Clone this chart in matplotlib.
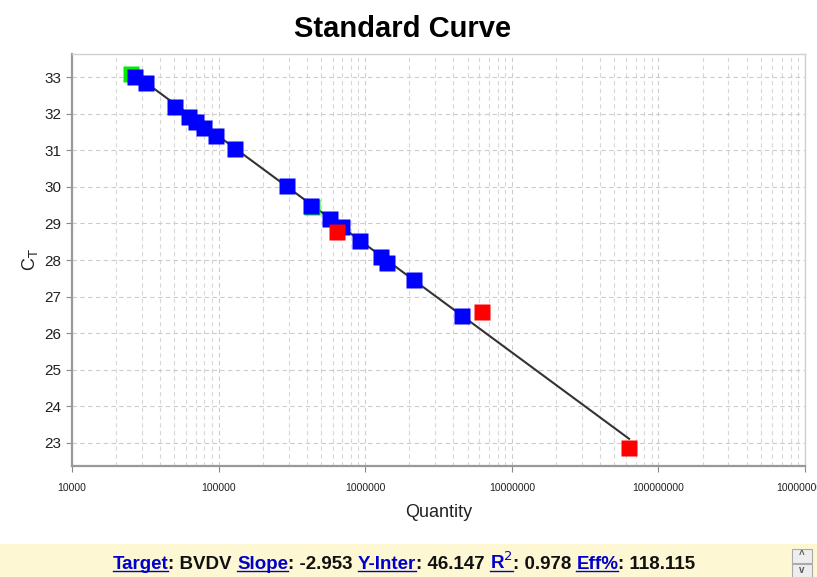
import numpy as np
import matplotlib
matplotlib.use("Agg")
import matplotlib.pyplot as plt
from matplotlib.patches import Rectangle
from matplotlib.ticker import LogLocator, FixedLocator, NullFormatter

plt.rcParams['font.family'] = ['Liberation Sans', 'DejaVu Sans']

# ---- data ----
green_qty = [25235, 433500]
green_ct = [33.08, 29.45]

blue_qty = [26915, 31990, 50120, 63100, 70150, 79430, 95500, 128800, 293100,
            426600, 575400, 691800, 922600, 1282000, 1409000, 2153000, 4571000]
blue_ct = [33.00, 32.84, 32.18, 31.91, 31.77, 31.61, 31.39, 31.03, 30.02,
           29.48, 29.12, 28.90, 28.52, 28.08, 27.92, 27.45, 26.47]

red_qty = [642700, 6310000, 63100000]
red_ct = [28.77, 26.58, 22.86]

slope = -2.953
y_inter = 46.147
r2 = 0.978
eff = 118.115
target = "BVDV"

x_ticks = [1e4, 1e5, 1e6, 1e7, 1e8, 1e9]
x_ticklabels = ["10000", "100000", "1000000", "10000000", "100000000", "1000000000"]
y_ticks = list(range(23, 34))

# ---- figure ----
fig = plt.figure(figsize=(8.17, 5.77), dpi=100)
ax = fig.add_axes([72/817, 1-466/577, (805-72)/817, (466-54)/577])

# fit line
all_q = green_qty + blue_qty + red_qty
qmin, qmax = min(all_q), max(all_q)
xs = np.array([qmin, qmax])
ax.plot(xs, slope*np.log10(xs) + y_inter, color='#333333', lw=1.5, zorder=2)

ms = 11.5
ax.plot(green_qty, green_ct, 's', color='#00ee00', ms=ms, mec='none', zorder=3)
ax.plot(blue_qty, blue_ct, 's', color='#0000ff', ms=ms, mec='none', zorder=4)
ax.plot(red_qty, red_ct, 's', color='#ff0000', ms=ms, mec='none', zorder=5)

ax.set_xscale('log')
ax.set_xlim(1e4, 1e9)
ax.set_ylim(22.37, 33.63)
ax.xaxis.set_major_locator(FixedLocator(x_ticks))
ax.set_xticklabels(x_ticklabels)
ax.xaxis.set_minor_locator(LogLocator(base=10, subs=np.arange(2, 10), numticks=50))
ax.xaxis.set_minor_formatter(NullFormatter())
ax.set_yticks(y_ticks)

ax.grid(True, which='major', axis='both', color='#cccccc', ls=(0, (4, 3)), lw=0.8)
ax.grid(True, which='minor', axis='x', color='#d8d8d8', ls=(0, (4, 3)), lw=0.8)
ax.set_axisbelow(True)

ax.tick_params(axis='x', which='major', length=4, color='#888888', labelsize=7.5,
               pad=8, labelcolor='#222222')
ax.tick_params(axis='x', which='minor', length=0)
ax.tick_params(axis='y', length=4, color='#888888', labelsize=11, labelcolor='#222222')

for s in ['left', 'bottom']:
    ax.spines[s].set_color('#999999')
    ax.spines[s].set_linewidth(1.6)
for s in ['top', 'right']:
    ax.spines[s].set_color('#d0d0d0')
    ax.spines[s].set_linewidth(1.0)

ax.set_xlabel('Quantity', fontsize=13, labelpad=8, color='#222222')
ax.set_ylabel(r'C$_{\mathrm{T}}$', fontsize=13, labelpad=3, color='#222222')
fig.text(403/817, 1-29/577, 'Standard Curve', fontsize=21, fontweight='bold',
         ha='center', va='center')

# bottom band
fig.patches.append(Rectangle((0, 0), 1, 33/577, transform=fig.transFigure,
                             facecolor='#fdf8d3', edgecolor='none', zorder=0))
# scroll buttons
for yb, sym in [(555, '^'), (570, 'v')]:
    fig.patches.append(Rectangle((792/817, 1-(yb+8)/577), 20/817, 14/577,
                                 transform=fig.transFigure, facecolor='#eeeeee',
                                 edgecolor='#aaaaaa', lw=0.8, zorder=1))
    fig.text(802/817, 1-(yb)/577, sym, fontsize=7, ha='center', va='center',
             color='#555555', fontweight='bold')

segments = [("Target", True), (": " + target + " ", False), ("Slope", True),
            (": %.3f " % slope, False), ("Y-Inter", True), (": %.3f " % y_inter, False),
            (r"R$^{2}$", True), (": %.3f " % r2, False), ("Eff%", True),
            (": %.3f" % eff, False)]

fs_band = 13.5
fig.canvas.draw()
renderer = fig.canvas.get_renderer()
texts = []
widths = []
for s, link in segments:
    t = fig.text(0, 0, s, fontsize=fs_band, fontweight='bold',
                 color='#0000cc' if link else '#111111', ha='left', va='baseline')
    bb = t.get_window_extent(renderer)
    texts.append(t)
    widths.append(bb.width)
total = sum(widths)
x0 = 404 - total/2
base_y = 569
W, H = 817, 577
for t, (s, link), w in zip(texts, segments, widths):
    t.set_position((x0/W, 1-base_y/H))
    if link:
        fig.lines.append(plt.Line2D([x0/W, (x0+w)/W], [1-(base_y+2)/H]*2,
                                    transform=fig.transFigure, color='#0000cc', lw=1.0))
    x0 += w

fig.savefig('out.png', dpi=100)
